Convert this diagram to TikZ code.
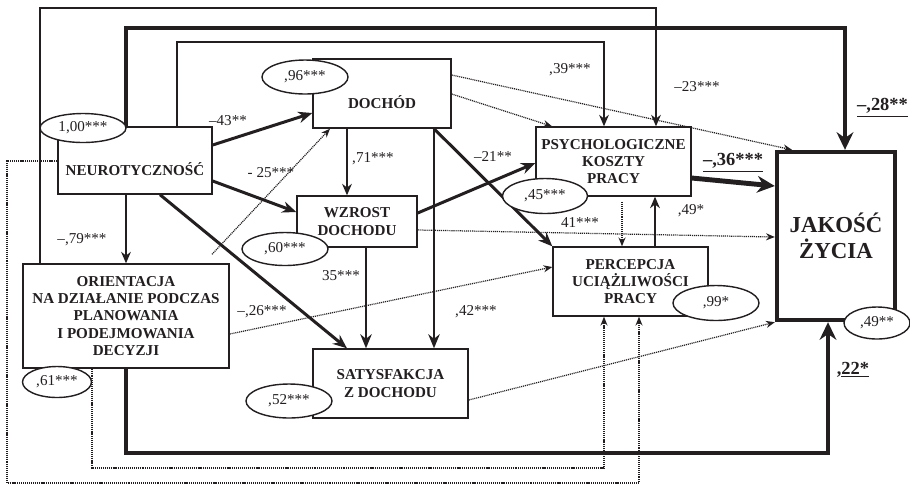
\documentclass[tikz,border=0pt]{standalone}
\usepackage{fontspec}
\setmainfont{Liberation Serif}
\usetikzlibrary{arrows.meta, shapes.geometric, calc}
\definecolor{Ink}{HTML}{231F20}
\newcommand{\coeffont}{\fontsize{8.6}{10}\selectfont}

\begin{document}
\begin{tikzpicture}[x=0.02cm, y=-0.02cm, Ink,
        box/.style={draw, line width=0.8pt, fill=white, align=center, inner sep=0pt,
            font=\fontsize{8.6}{9.8}\selectfont\bfseries},
        err/.style={ellipse, draw, line width=0.8pt, fill=white, inner sep=0pt, font=\coeffont},
        coef/.style={font=\coeffont, inner sep=1pt},
        keycoef/.style={font=\fontsize{10.5}{12}\selectfont\bfseries, inner sep=1pt},
        dots/.style={dash pattern=on 0.6pt off 0.5pt, line width=0.7pt, -{Stealth[length=5pt, width=4pt]}},
        path1/.style={line width=1.1pt, -{Stealth[length=6.5pt, width=5.5pt]}},
        path2/.style={line width=1.7pt, -{Stealth[length=8pt, width=6.5pt]}},
        path3/.style={line width=2.8pt, -{Stealth[length=10pt, width=9.5pt]}}]
        \useasboundingbox (0,0) rectangle (910,485);

        % Variables
        \node[box, minimum width=3.08cm, text height=0.96cm, text depth=0.38cm] (neuro) at (135,160.5) {NEUROTYCZNOŚĆ};
        \node[box, minimum width=2.76cm, text height=0.98cm, text depth=0.40cm] (dochod) at (382,93.5) {DOCHÓD};
        \node[box, minimum width=2.4cm, minimum height=1.02cm] (wzrost) at (357,221.5) {WZROST\\DOCHODU};
        \node[box, minimum width=4.12cm, minimum height=2.08cm] (orient) at (126,316) {ORIENTACJA\\NA DZIAŁANIE PODCZAS\\PLANOWANIA\\I PODEJMOWANIA\\DECYZJI};
        \node[box, minimum width=3.1cm, minimum height=1.38cm] (satysf) at (390.5,383.5) {SATYSFAKCJA\\Z DOCHODU};
        \node[box, minimum width=3.1cm, minimum height=1.38cm] (psycho) at (613.5,161.5) {PSYCHOLOGICZNE\\KOSZTY\\PRACY};
        \node[box, minimum width=3.1cm, minimum height=1.38cm] (percep) at (630.5,281.5) {PERCEPCJA\\UCIĄŻLIWOŚCI\\PRACY};
        \node[box, line width=2.5pt, minimum width=2.36cm, minimum height=3.36cm,
            font=\fontsize{13}{14.8}\selectfont\bfseries] (jakosc) at (836,236) {JAKOŚĆ\\ŻYCIA};

        % Direct paths
        \draw[path2] (neuro.east |- 0,145) -- (dochod.west |- 0,113);
        \node[coef] at (228,121) {–43**};
        \draw[path2] (neuro.east |- 0,181) -- (wzrost.west |- 0,212);
        \draw[path1] (neuro.south -| 126,0) -- (orient.north -| 126,0);
        \node[coef] at (82,240) {–,79***};
        \draw[path2] (neuro.south -| 160,0) -- (satysf.north -| 347,0);
        \draw[path1] (dochod.south -| 347,0) -- (wzrost.north -| 347,0);
        \node[coef] at (373,159) {,71***};
        \draw[path2] (dochod.south -| 434,0) -- (percep.north west);
        \draw[path2] (dochod.south -| 434,0) -- (satysf.north -| 434,0);
        \node[coef] at (476,312) {,42***};
        \draw[path2] (wzrost.south -| 366,0) -- (satysf.north -| 366,0);
        \node[coef] at (341,276) {35***};
        \draw[path2] (wzrost.east |- 0,213) -- (psycho.west |- 0,163);
        \node[coef] at (493,156) {–21**};
        \draw[path1] (percep.north -| 655,0) -- (psycho.south -| 655,0);
        \node[coef] at (691,211) {,49*};
        \draw[dots, shorten <=3pt] (psycho.south -| 622,0) -- (percep.north -| 622,0);
        \draw[path3] (psycho.east |- 0,178) -- (jakosc.west |- 0,186);
        \node[keycoef] at (733,163) {\underline{–,36***}};

        % Dotted paths
        \draw[dots] (wzrost.east |- 0,230) -- (jakosc.west |- 0,237);
        \node[coef] at (580,223) {41***};
        \draw[dots] (dochod.east |- 0,94) -- (psycho.north -| 552,0);
        \node[coef] at (570,70) {,39***};
        \draw[dots] (dochod.east |- 0,75) -- (jakosc.north -| 792,0);
        \node[coef] at (697,87) {–23***};
        \draw[dots] ($(orient.north -| 212,0)+(0,-9)$) -- (dochod.south -| 330,0);
        \node[coef] at (271,173) {- 25***};
        \draw[dots] (orient.east |- 0,334) -- (percep.west |- 0,267);
        \node[coef] at (262,312) {–,26***};
        \draw[dots] (satysf.east |- 0,400) -- (jakosc.south west);

        % Routed paths over the top
        \draw[path1] (orient.north -| 40,0) |- (656,8) -- (psycho.north -| 656,0);
        \draw[path3] (neuro.north -| 126,0) |- (845,28) -- (jakosc.north -| 845,0);
        \node[keycoef, anchor=east] at (910,108) {\underline{–,28**}};
        \draw[path1] (neuro.north -| 177,0) |- (604,42) -- (psycho.north -| 604,0);

        % Routed paths along the bottom
        \draw[path3] (orient.south -| 126,0) |- (828,453) -- (jakosc.south -| 828,0);
        \node[keycoef] at (853,370) {,\underline{22*}};
        \draw[dots] (orient.south -| 92,0) |- (604,468) -- (percep.south -| 604,0);
        \draw[dots] (neuro.west |- 0,161) -| (7,483) -| (percep.south -| 639,0);

        % Residual terms
        \node[err, minimum width=1.72cm, minimum height=0.58cm] (neuroErr) at (83,128) {1,00***};
        \node[err, minimum width=1.72cm, minimum height=0.68cm] (dochodErr) at (305,77) {,96***};
        \node[err, minimum width=1.72cm, minimum height=0.66cm] (wzrostErr) at (285,249) {,60***};
        \node[err, minimum width=1.38cm, minimum height=0.62cm] (orientErr) at (57,382) {,61***};
        \node[err, minimum width=1.72cm, minimum height=0.68cm] (satysfErr) at (289,401) {,52***};
        \node[err, minimum width=1.70cm, minimum height=0.70cm] (psychoErr) at (545,196) {,45***};
        \node[err, minimum width=1.72cm, minimum height=0.70cm] (percepErr) at (716,303) {,99*};
        \node[err, minimum width=1.32cm, minimum height=0.64cm] (jakoscErr) at (877,323) {,49**};
    \end{tikzpicture}
\end{document}
